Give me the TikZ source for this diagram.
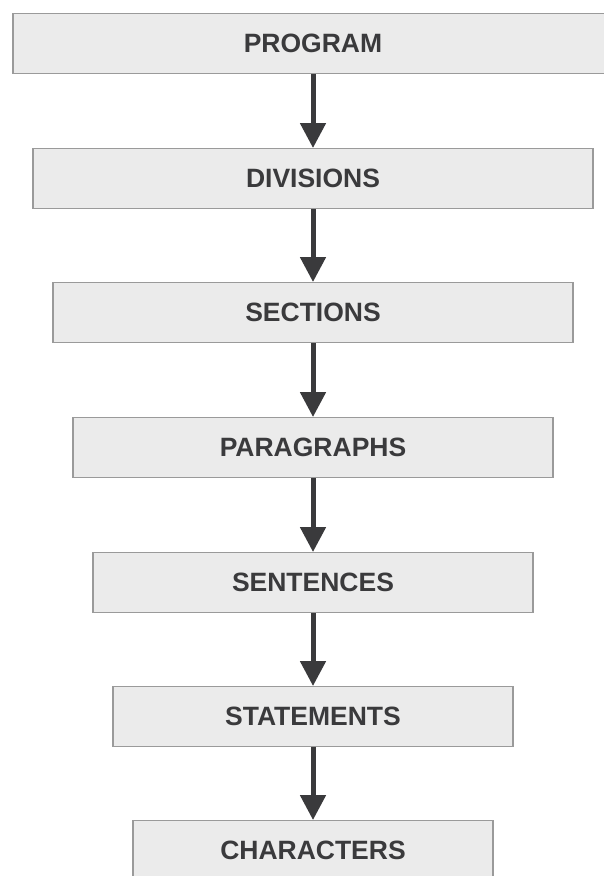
\documentclass[tikz,border=0pt]{standalone}
\usepackage{fontspec}
\setmainfont{Liberation Sans}
\usetikzlibrary{arrows.meta}
\definecolor{boxfill}{HTML}{EBEBEB}
\definecolor{boxline}{HTML}{9A9A9A}
\definecolor{ink}{HTML}{3A3A3C}
\begin{document}
\begin{tikzpicture}[x=1pt,y=-1pt,
  level/.style={draw=boxline, line width=1.4pt, fill=boxfill, minimum height=60pt,
    inner sep=0pt, text=ink, font=\fontsize{26.5}{30}\selectfont\bfseries, anchor=north},
  flow/.style={draw=ink, line width=5pt, -{Triangle[width=25pt,length=25pt]}}]
\useasboundingbox (0,0) rectangle (604,876);
\clip (0,0) rectangle (604,876);
\node[level, minimum width=600pt] (program) at (313,13) {PROGRAM};
\node[level, minimum width=560pt] (divisions) at (313,148) {DIVISIONS};
\node[level, minimum width=520pt] (sections) at (313,282) {SECTIONS};
\node[level, minimum width=480pt] (paragraphs) at (313,417) {PARAGRAPHS};
\node[level, minimum width=440pt] (sentences) at (313,552) {SENTENCES};
\node[level, minimum width=400pt] (statements) at (313,686) {STATEMENTS};
\node[level, minimum width=360pt] (characters) at (313,820) {CHARACTERS};
\draw[flow] (program.south) -- (divisions.north);
\draw[flow] (divisions.south) -- (sections.north);
\draw[flow] (sections.south) -- (paragraphs.north);
\draw[flow] (paragraphs.south) -- (sentences.north);
\draw[flow] (sentences.south) -- (statements.north);
\draw[flow] (statements.south) -- (characters.north);
\end{tikzpicture}
\end{document}
